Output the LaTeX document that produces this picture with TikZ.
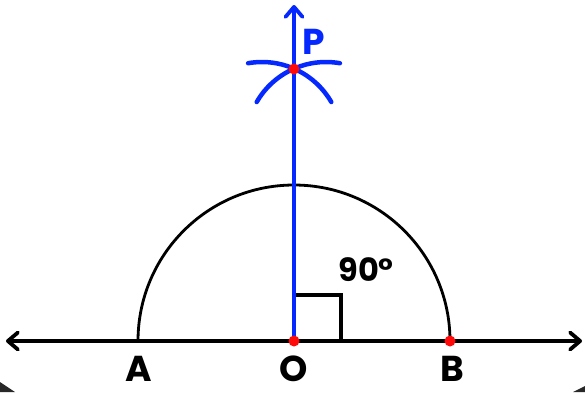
\documentclass[tikz,border=0pt]{standalone}
\usepackage{fontspec}
\setmainfont{Poppins}
\usetikzlibrary{arrows.meta}
\definecolor{myblue}{RGB}{5,40,255}
\definecolor{myred}{RGB}{255,10,10}
\definecolor{cornergray}{RGB}{40,40,40}
\begin{document}
\begin{tikzpicture}[x=1pt,y=-1pt,
  >={Straight Barb[length=10pt,width=17pt,line cap=round,line join=round]},
  lbl/.style={font=\fontsize{36}{40}\selectfont\bfseries, inner sep=0pt},
  blk/.style={line width=3.8pt, black, line cap=round},
  bluel/.style={line width=3.8pt, myblue, line cap=round},
  arcst/.style={line width=4.5pt, myblue, line cap=round},
  dot/.style={fill=myred}
]
\useasboundingbox (0,0) rectangle (585,392);
\fill[white] (0,0) rectangle (585,392);
\fill[cornergray] (0,382) -- (15,392) -- (0,392) -- cycle;
\fill[cornergray] (585,386) -- (573,392) -- (585,392) -- cycle;

\coordinate (O) at (294,341);
\coordinate (A) at (138,341);
\coordinate (B) at (450,341);
\coordinate (P) at (294,69);
\coordinate (L) at (6,341);
\coordinate (R) at (582,341);
\coordinate (T) at (294,5);
\coordinate (Q) at (294,295);
\coordinate (S) at (341,341);
\coordinate (C1) at (262,142);
\coordinate (C2) at (326,142);

% semicircle
\draw[line width=2.8pt] (B) arc[start angle=0,end angle=-180,radius=156];
% base line
\draw[blk, <->] (L) -- (R);
% right angle mark
\draw[blk, line cap=butt] (Q) -| (S);
% perpendicular
\draw[bluel, ->] (O) -- (T);
% construction arcs
\draw[arcst] (C1) ++(-100:80) arc[start angle=-100,end angle=-30,radius=80];
\draw[arcst] (C2) ++(-150:80) arc[start angle=-150,end angle=-80,radius=80];

% points
\fill[dot] (O) circle[radius=5.5];
\fill[dot] (B) circle[radius=5.5];
\fill[dot] (P) circle[radius=5.5];

% labels
\node[lbl] (lA) at (139,369) {A};
\node[lbl] (lO) at (294,369) {O};
\node[lbl] (lB) at (452,369) {B};
\node[lbl, text=myblue] (lP) at (314,42) {P};
\node[lbl, font=\fontsize{32}{36}\selectfont\bfseries] (l90) at (366,270) {90°};
\end{tikzpicture}
\end{document}
